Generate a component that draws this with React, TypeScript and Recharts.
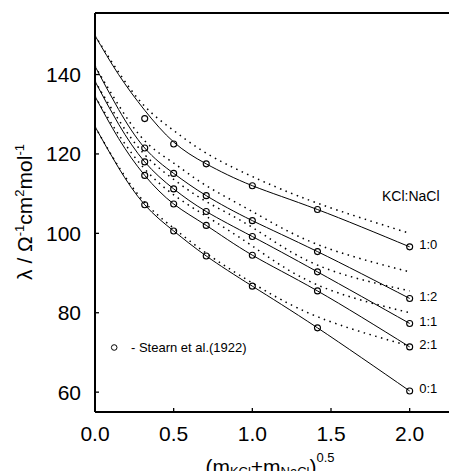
import React from 'react';
import { ComposedChart, Line, Scatter, XAxis, YAxis, Customized } from 'recharts';

const FONT = '"Liberation Sans", Arial, Helvetica, sans-serif';

// x = (m_KCl + m_NaCl)^0.5
const fitX = [0, 0.15, 0.316, 0.5, 0.707, 1.0, 1.414, 2.0];
const stearnX = [0.316, 0.5, 0.707, 1.0, 1.414, 2.0];

const ratios = ['1:0', '1:2', '1:1', '2:1', '0:1'];

// solid model curves
const solid10 = [149.8, 140.0, 131.0, 123.0, 117.5, 112.0, 106.0, 96.6];
const solid12 = [142.1, 131.2, 121.5, 115.1, 109.5, 103.2, 95.4, 83.6];
const solid11 = [138.3, 127.5, 118.0, 111.2, 105.5, 99.2, 90.3, 77.3];
const solid21 = [134.5, 123.9, 114.6, 107.4, 102.0, 94.5, 85.5, 71.4];
const solid01 = [126.9, 116.5, 107.2, 100.6, 94.3, 86.7, 76.2, 60.3];

// dotted model curves
const dotted10 = [149.8, 140.6, 132.0, 125.9, 120.2, 114.3, 107.6, 100.0];
const dotted12 = [142.1, 132.3, 123.3, 117.7, 112.0, 105.5, 97.2, 90.3];
const dotted11 = [138.3, 128.6, 119.8, 113.6, 108.0, 101.5, 92.0, 85.5];
const dotted21 = [134.5, 124.9, 116.2, 109.7, 104.3, 96.8, 87.0, 80.0];
const dotted01 = [126.9, 116.8, 107.8, 101.3, 95.0, 87.5, 79.0, 71.6];

// Stearn et al. (1922) measurements
const stearn10 = [128.9, 122.5, 117.5, 112.0, 106.0, 96.6];
const stearn12 = [121.5, 115.1, 109.5, 103.2, 95.4, 83.6];
const stearn11 = [118.0, 111.2, 105.5, 99.2, 90.3, 77.3];
const stearn21 = [114.6, 107.4, 102.0, 94.5, 85.5, 71.4];
const stearn01 = [107.2, 100.6, 94.3, 86.7, 76.2, 60.3];

const yTicks = [60, 80, 100, 120, 140];
const xTicks = [0, 0.5, 1.0, 1.5, 2.0];

const solids = [solid10, solid12, solid11, solid21, solid01];
const dotteds = [dotted10, dotted12, dotted11, dotted21, dotted01];
const stearns = [stearn10, stearn12, stearn11, stearn21, stearn01];

const toPoints = (xs: number[], ys: number[]) => xs.map((x, i) => ({ x, y: ys[i] }));

const endLabel = (name: string) => (p: any) => {
  if (p.index !== fitX.length - 1) return <g />;
  const x = p.x ?? p.viewBox?.x;
  const y = p.y ?? p.viewBox?.y;
  return (
    <text x={x + 9.5} y={y + 2.5} fontSize={13} fontFamily={FONT} fill="#000">
      {name}
    </text>
  );
};

const openCircle = (p: any) => (
  <circle cx={p.cx} cy={p.cy} r={3} fill="none" stroke="#000" strokeWidth={1.1} />
);

const Notes = () => (
  <g fontFamily={FONT} fill="#000">
    <text x={382} y={201} fontSize={14}>KCl:NaCl</text>
    <circle cx={114.2} cy={347.5} r={2.8} fill="none" stroke="#000" strokeWidth={1} />
    <text x={131} y={351.5} fontSize={13}>- Stearn et al.(1922)</text>
    <text x={270} y={474} fontSize={21} textAnchor="middle">
      (m<tspan fontSize={13} dy={2}>KCl</tspan>
      <tspan dy={-2}>+m</tspan>
      <tspan fontSize={13} dy={2}>NaCl</tspan>
      <tspan dy={-2}>)</tspan>
      <tspan fontSize={13} dy={-12}>0.5</tspan>
    </text>
    <text transform="translate(32,212) rotate(-90)" textAnchor="middle" fontSize={21}>
      λ / Ω<tspan fontSize={13} dy={-8}>-1</tspan>
      <tspan dy={8}>cm</tspan>
      <tspan fontSize={13} dy={-8}>2</tspan>
      <tspan dy={8}>mol</tspan>
      <tspan fontSize={13} dy={-8}>-1</tspan>
    </text>
  </g>
);

const tickFont = { fill: '#000', fontSize: 21, fontFamily: FONT };
const axisLine = { stroke: '#000', strokeWidth: 2 };
const tickLine = { stroke: '#000', strokeWidth: 1.3 };

export default function App() {
  return (
    <div style={{ position: 'absolute', left: 0, top: 0, background: '#fff' }}>
      <ComposedChart width={450} height={471} margin={{ top: 12, right: 1, left: 0, bottom: 0 }}>
        <XAxis
          dataKey="x"
          type="number"
          domain={[0, 2.25]}
          ticks={xTicks}
          allowDataOverflow
          height={59}
          tickSize={-4}
          tickMargin={18}
          tickFormatter={(v: number) => v.toFixed(1)}
          tick={tickFont}
          axisLine={axisLine}
          tickLine={tickLine}
        />
        <XAxis
          xAxisId="top"
          orientation="top"
          dataKey="x"
          type="number"
          domain={[0, 2.25]}
          ticks={xTicks}
          allowDataOverflow
          height={1}
          tickSize={-4}
          tick={false}
          axisLine={axisLine}
          tickLine={tickLine}
        />
        <YAxis
          dataKey="y"
          type="number"
          domain={[55, 155.5]}
          ticks={yTicks}
          allowDataOverflow
          width={95}
          tickSize={-4}
          tickMargin={18}
          tick={tickFont}
          axisLine={axisLine}
          tickLine={tickLine}
        />
        {dotteds.map((d, i) => (
          <Line
            key={'d' + i}
            data={toPoints(fitX, d)}
            dataKey="y"
            type="natural"
            dot={false}
            stroke="#000"
            strokeWidth={1.5}
            strokeDasharray="1.5 4.5"
            isAnimationActive={false}
          />
        ))}
        {solids.map((s, i) => (
          <Line
            key={'s' + i}
            data={toPoints(fitX, s)}
            dataKey="y"
            type="natural"
            dot={false}
            stroke="#000"
            strokeWidth={1}
            label={endLabel(ratios[i])}
            isAnimationActive={false}
          />
        ))}
        {stearns.map((s, i) => (
          <Scatter
            key={'p' + i}
            data={toPoints(stearnX, s)}
            dataKey="y"
            shape={openCircle}
            isAnimationActive={false}
          />
        ))}
        <Customized component={<Notes />} />
      </ComposedChart>
    </div>
  );
}
